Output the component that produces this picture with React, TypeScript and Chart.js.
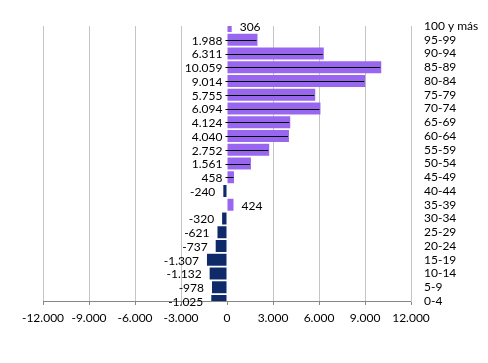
import React, { useEffect, useRef } from "react";
import { Chart, registerables } from "chart.js";

Chart.register(...registerables);

const categories = [
  "100 y más", "95-99", "90-94", "85-89", "80-84", "75-79", "70-74",
  "65-69", "60-64", "55-59", "50-54", "45-49", "40-44", "35-39",
  "30-34", "25-29", "20-24", "15-19", "10-14", "5-9", "0-4",
];
const values = [
  306, 1988, 6311, 10059, 9014, 5755, 6094, 4124, 4040, 2752, 1561, 458,
  -240, 424, -320, -621, -737, -1307, -1132, -978, -1025,
];
const xMin = -12000;
const xMax = 12000;
const xStep = 3000;

const POS_COLOR = "#9966F0";
const NEG_COLOR = "#0F2A68";
const FONT = "Lato, 'Open Sans', sans-serif";

function fmt(v: number): string {
  const s = Math.round(Math.abs(v)).toString();
  const withDots = s.replace(/\B(?=(\d{3})+(?!\d))/g, ".");
  return (v < 0 ? "-" : "") + withDots;
}

const labelPlugin = {
  id: "barLabels",
  afterDatasetsDraw(chart: any) {
    const ctx = chart.ctx;
    const meta = chart.getDatasetMeta(0);
    const data = chart.data.datasets[0].data as number[];
    ctx.save();
    ctx.font = `12px ${FONT}`;
    ctx.fillStyle = "#000";
    ctx.textBaseline = "middle";
    meta.data.forEach((el: any, i: number) => {
      const v = data[i];
      const { x, y, base } = el.getProps(["x", "y", "base"], true);
      const ty = y + 1;
      const text = fmt(v);
      if (v < 0) {
        ctx.textAlign = "right";
        ctx.fillText(text, x - 8, ty);
      } else if (v < 450) {
        ctx.textAlign = "left";
        ctx.fillText(text, x + 8, ty);
      } else {
        ctx.textAlign = "right";
        const tx = base - 5;
        ctx.fillText(text, tx, ty);
        ctx.beginPath();
        ctx.strokeStyle = "#000";
        ctx.lineWidth = 1;
        const sx = tx + 3;
        const ex = Math.max(sx + 8, x - 1);
        ctx.moveTo(sx, Math.round(y) + 0.5);
        ctx.lineTo(ex, Math.round(y) + 0.5);
        ctx.stroke();
      }
    });
    ctx.restore();
  },
};

export default function App() {
  const ref = useRef<HTMLCanvasElement | null>(null);
  useEffect(() => {
    if (!ref.current) return;
    const chart = new Chart(ref.current, {
      type: "bar",
      data: {
        labels: categories,
        datasets: [
          {
            data: values,
            backgroundColor: values.map((v) => (v < 0 ? NEG_COLOR : POS_COLOR)),
            borderWidth: 0,
            barPercentage: 0.87,
            categoryPercentage: 1,
            clip: 0,
          } as any,
        ],
      },
      options: {
        indexAxis: "y",
        responsive: false,
        animation: false,
        events: [],
        layout: { padding: { top: 26, left: 43, right: 0, bottom: 0 } },
        plugins: {
          legend: { display: false },
          tooltip: { enabled: false },
        },
        scales: {
          x: {
            type: "linear",
            min: xMin,
            max: xMax,
            position: "bottom",
            afterFit: (s: any) => {
              s.height = 62;
            },
            ticks: {
              stepSize: xStep,
              autoSkip: false,
              maxRotation: 0,
              padding: 6,
              color: "#000",
              font: { family: FONT, size: 12 },
              callback: (v: any) => fmt(Number(v)),
            },
            grid: {
              color: (c: any) => (c.tick && c.tick.value === 0 ? "rgba(0,0,0,0)" : "#C4C4C4"),
              tickColor: "#868686",
              tickLength: 4,
              drawTicks: true,
            },
            border: { display: true, color: "#868686", width: 1 },
          },
          y: {
            type: "category",
            position: "right",
            offset: false,
            afterFit: (s: any) => {
              s.width = 77;
            },
            ticks: {
              autoSkip: false,
              padding: 13,
              color: "#000",
              font: { family: FONT, size: 12 },
            },
            grid: { display: false, drawTicks: false },
            border: { display: true, color: "#C4C4C4", width: 1 },
          },
        },
      },
      plugins: [labelPlugin],
    });
    return () => chart.destroy();
  }, []);
  return (
    <div style={{ position: "absolute", left: 0, top: 0, width: 488, height: 363, background: "#fff" }}>
      <canvas ref={ref} width={488} height={363} style={{ display: "block" }} />
    </div>
  );
}
